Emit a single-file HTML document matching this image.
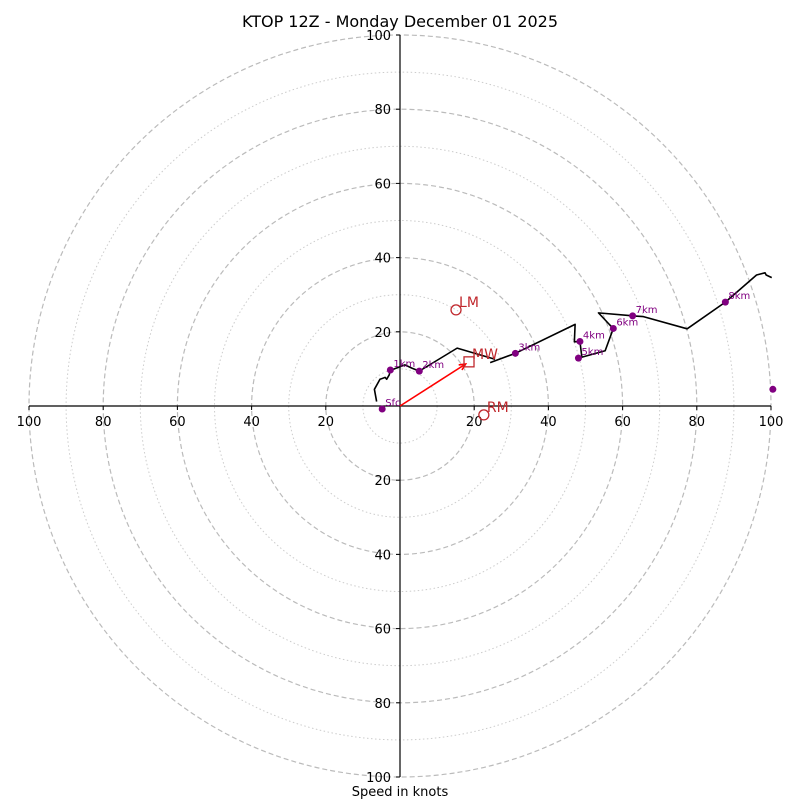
<!DOCTYPE html>
<html><head><meta charset="utf-8"><style>
body{margin:0;background:#fff}
svg{display:block;font-family:"DejaVu Sans","Liberation Sans",sans-serif}
</style></head><body>
<svg id="chart" width="800" height="800" viewBox="0 0 800 800">
<rect width="800" height="800" fill="#fff"/>
<text x="400" y="27" text-anchor="middle" font-size="16">KTOP 12Z - Monday December 01 2025</text>
<text x="400" y="796" text-anchor="middle" font-size="13">Speed in knots</text>
<g id="rings"></g><g id="axes"></g><g id="trace"></g><g id="marks"></g>
</svg>
<script>
const ringValues=[10,20,30,40,50,60,70,80,90,100];
const tickValues=[20,40,60,80,100];
const traceU=[-6.3,-6.9,-5.4,-4.0,-3.6,-2.9,-2.6,-1.8,1.3,3.2,5.2,15.4,25.6];
const traceV=[1.2,4.5,7.2,7.7,7.2,8.4,9.7,9.9,11.1,10.2,9.4,15.6,12.6];
const trace2U=[24.3,31.1,47.2,47.0,48.5,49.0,48.1,55.3,57.5,56.6,53.5,62.7,65.6,77.4,87.7,96.1,98.4,98.7,100.2];
const trace2V=[11.7,14.2,22.0,17.3,17.4,13.3,12.9,14.9,20.9,21.8,25.1,24.3,24.1,20.8,28.0,35.3,35.9,35.3,34.6];
const hgtLabels=["Sfc","1km","2km","3km","4km","5km","6km","7km","8km",""];
const hgtU=[-4.8,-2.6,5.2,31.1,48.5,48.1,57.5,62.7,87.7,100.5];
const hgtV=[-0.8,9.7,9.4,14.2,17.4,12.9,20.9,24.3,28.0,4.5];
const stormNames=["LM","MW","RM"];
const stormU=[15.1,18.6,22.6];
const stormV=[25.9,11.9,-2.4];

const cx=400,cy=406,k=3.71;
const sx=u=>cx+u*k, sy=v=>cy-v*k;
const NS="http://www.w3.org/2000/svg";
function mk(tag,parent,attrs){const e=document.createElementNS(NS,tag);for(const a in attrs)e.setAttribute(a,attrs[a]);document.getElementById(parent).appendChild(e);return e;}

ringValues.forEach(r=>{
  const c=mk('circle','rings',{cx:cx,cy:cy,r:r*k,fill:'none',stroke:r%20===0?'#bbb':'#ccc','stroke-width':r%20===0?1.2:1,'stroke-dasharray':r%20===0?'5,3':'1.5,2.5'});
  
  
});
let l=mk('line','axes',{x1:sx(-100),y1:cy,x2:sx(100),y2:cy,stroke:'#000','stroke-width':1.2});


l=mk('line','axes',{x1:cx,y1:sy(100),x2:cx,y2:sy(-100),stroke:'#000','stroke-width':1.2});


tickValues.forEach(t=>{
  [-1,1].forEach(s=>{
    mk('line','axes',{x1:sx(s*t),y1:cy,x2:sx(s*t),y2:cy+4,stroke:'#000'});
    const tx=mk('text','axes',{x:sx(s*t),y:cy+20,'text-anchor':'middle','font-size':13});
    tx.textContent=t;
    
    
    mk('line','axes',{x1:cx-4,y1:sy(s*t),x2:cx,y2:sy(s*t),stroke:'#000'});
    const ty=mk('text','axes',{x:cx-9,y:sy(s*t)+5,'text-anchor':'end','font-size':13});
    ty.textContent=t;
    
    
  });
});
function poly(U,V,name){
  const p=mk('polyline','trace',{points:U.map((u,i)=>sx(u)+','+sy(V[i])).join(' '),fill:'none',stroke:'#000','stroke-width':1.6,'stroke-linejoin':'round'});
  
  
}
poly(traceU,traceV,'hodograph-trace-low');
poly(trace2U,trace2V,'hodograph-trace-upper');
hgtU.forEach((u,i)=>{
  const d=mk('circle','marks',{cx:sx(u),cy:sy(hgtV[i]),r:3.5,fill:'#800080'});
  
  
  if(hgtLabels[i]){
    const t=mk('text','marks',{x:sx(u)+3,y:sy(hgtV[i])-3,'font-size':10,fill:'#800080'});
    t.textContent=hgtLabels[i];
    
    
  }
});
const ax=sx(stormU[1]),ay=sy(stormV[1]);
const ang=Math.atan2(ay-cy,ax-cx);
const ex=ax-4*Math.cos(ang),ey=ay-4*Math.sin(ang);
let ar=mk('line','marks',{x1:cx,y1:cy,x2:ex,y2:ey,stroke:'#f00','stroke-width':1.6});


const h1=ang+2.7,h2=ang-2.7;
ar=mk('polyline','marks',{points:(ex+7*Math.cos(h1))+','+(ey+7*Math.sin(h1))+' '+ex+','+ey+' '+(ex+7*Math.cos(h2))+','+(ey+7*Math.sin(h2)),fill:'none',stroke:'#f00','stroke-width':1.6});


stormNames.forEach((n,i)=>{
  const x=sx(stormU[i]),y=sy(stormV[i]);
  let m;
  if(n==='MW') m=mk('rect','marks',{x:x-5,y:y-5,width:10,height:10,fill:'none',stroke:'#c0282d','stroke-width':1.3});
  else m=mk('circle','marks',{cx:x,cy:y,r:5,fill:'none',stroke:'#c0282d','stroke-width':1.3});
  
  
  const t=mk('text','marks',{x:x+3,y:y-3,'font-size':14,fill:'#c0282d'});
  t.textContent=n;
  
  
});
</script>
</body></html>
